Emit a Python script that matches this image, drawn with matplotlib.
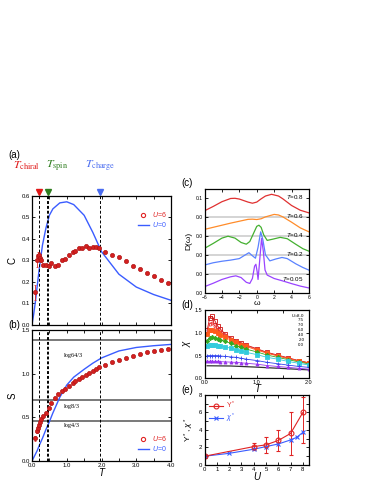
import matplotlib
matplotlib.use("Agg")
import matplotlib.pyplot as plt
from matplotlib.lines import Line2D
from matplotlib.ticker import MultipleLocator

plt.rcParams['font.family'] = ['Liberation Sans', 'DejaVu Sans']
plt.rcParams['mathtext.fontset'] = 'custom'
plt.rcParams['mathtext.rm'] = 'Liberation Sans'
plt.rcParams['mathtext.it'] = 'Liberation Sans:italic'
plt.rcParams['xtick.direction'] = 'in'
plt.rcParams['ytick.direction'] = 'in'
plt.rcParams['axes.linewidth'] = 0.9

# ---------------- data ----------------
# (a)/(b): U=0 exact curves
T_free = [0, 0.05, 0.1, 0.15, 0.2, 0.3, 0.4, 0.5, 0.6, 0.8, 1.0, 1.2, 1.5, 1.75, 2.0, 2.5, 3.0, 3.5, 4.0]
C_free = [0, 0.05, 0.11, 0.18, 0.25, 0.37, 0.45, 0.51, 0.54, 0.568, 0.573, 0.56, 0.51, 0.43, 0.34, 0.235, 0.175, 0.14, 0.113]
S_free = [0, 0.04, 0.08, 0.12, 0.17, 0.26, 0.36, 0.45, 0.55, 0.73, 0.87, 0.96, 1.05, 1.12, 1.18, 1.26, 1.30, 1.32, 1.335]

# (a)/(b): U=6 data points
T_u6 = [0.1, 0.15, 0.18, 0.2, 0.23, 0.27, 0.33, 0.4, 0.48, 0.56, 0.65, 0.75, 0.85, 0.95, 1.05,
        1.17, 1.24, 1.35, 1.43, 1.54, 1.65, 1.75, 1.84, 1.93, 2.1, 2.3, 2.5, 2.7, 2.9, 3.1, 3.3,
        3.5, 3.7, 3.9]
C_u6 = [0.15, 0.30, 0.32, 0.325, 0.31, 0.30, 0.28, 0.278, 0.273, 0.285, 0.275, 0.278, 0.302,
        0.308, 0.325, 0.34, 0.343, 0.355, 0.358, 0.365, 0.355, 0.36, 0.36, 0.358, 0.338, 0.325,
        0.313, 0.298, 0.275, 0.26, 0.24, 0.226, 0.21, 0.195]
C_u6_err = [0.035, 0.03, 0.02, 0.012, 0.01, 0.008] + [0.0] * 28
S_u6 = [0.26, 0.34, 0.38, 0.41, 0.45, 0.48, 0.52, 0.555, 0.61, 0.665, 0.72, 0.765, 0.8, 0.83,
        0.86, 0.895, 0.915, 0.94, 0.96, 0.985, 1.01, 1.035, 1.055, 1.075, 1.1, 1.13, 1.16,
        1.185, 1.205, 1.23, 1.245, 1.256, 1.268, 1.284]
S_u6_err = [0.03, 0.025, 0.02, 0.015, 0.01] + [0.0] * 29

T_chiral, T_spin, T_charge = 0.19, 0.45, 1.95
S_levels = [1.386, 0.693, 0.462]
S_level_labels = ["log64/3", "log8/3", "log4/3"]

# (c): spectral functions
w_08 = [-6, -5, -4, -3, -2.5, -2, -1, -0.5, 0, 0.5, 1, 1.7, 2.5, 3, 4, 5, 6]
D_08 = [0.032, 0.055, 0.08, 0.097, 0.098, 0.094, 0.078, 0.072, 0.078, 0.095, 0.11, 0.119, 0.11,
        0.095, 0.06, 0.035, 0.021]
w_06 = [-6, -5, -4, -3, -2, -1, -0.5, 0, 0.5, 1, 2, 2.5, 3, 4, 5, 6]
D_06 = [0.034, 0.045, 0.056, 0.067, 0.077, 0.087, 0.088, 0.086, 0.09, 0.1, 0.113, 0.11, 0.1,
        0.072, 0.042, 0.021]
w_04 = [-6, -5, -4, -3.3, -2.5, -1.8, -1.2, -0.8, -0.4, 0, 0.25, 0.5, 0.8, 1.2, 1.8, 2.7, 3.5,
        4.5, 5.3, 6]
D_04 = [0.034, 0.06, 0.088, 0.098, 0.088, 0.065, 0.056, 0.07, 0.11, 0.15, 0.156, 0.145, 0.105,
        0.076, 0.082, 0.092, 0.085, 0.055, 0.032, 0.019]
w_02 = [-6, -5, -4, -3, -2, -1.3, -0.9, -0.5, -0.15, 0.15, 0.45, 0.7, 1.0, 1.5, 2.2, 2.9, 3.5,
        4.5, 5.3, 6]
D_02 = [0.046, 0.058, 0.066, 0.072, 0.08, 0.1, 0.111, 0.095, 0.082, 0.14, 0.221, 0.18, 0.1,
        0.068, 0.078, 0.086, 0.08, 0.052, 0.033, 0.019]
w_005 = [-6, -5, -4, -3, -2.4, -1.8, -1.2, -0.8, -0.5, -0.25, -0.1, 0.05, 0.15, 0.3, 0.55, 0.75,
         0.95, 1.2, 2, 3, 4, 5, 6]
D_005 = [0.032, 0.05, 0.07, 0.084, 0.089, 0.08, 0.055, 0.049, 0.075, 0.14, 0.15, 0.11, 0.07,
         0.15, 0.286, 0.22, 0.12, 0.093, 0.075, 0.062, 0.048, 0.035, 0.025]
D_temps = ["0.8", "0.6", "0.4", "0.2", "0.05"]
D_offsets = [0.4, 0.3, 0.2, 0.1, 0.0]

# (d): susceptibility
T_chi = [0.05, 0.1, 0.15, 0.2, 0.25, 0.3, 0.4, 0.5, 0.6, 0.7, 0.8, 1.0, 1.2, 1.4, 1.6, 1.8, 2.0]
chi_80 = [1.05, 1.33, 1.36, 1.26, 1.15, 1.08, 0.97, 0.89, 0.83, 0.78, 0.73, 0.65, 0.57, 0.51, 0.45, 0.39, 0.34]
chi_75 = [1.0, 1.2, 1.22, 1.15, 1.08, 1.03, 0.94, 0.87, 0.81, 0.76, 0.72, 0.64, 0.56, 0.5, 0.44, 0.385, 0.335]
chi_70 = [0.98, 1.05, 1.06, 1.03, 1.0, 0.96, 0.9, 0.84, 0.79, 0.74, 0.7, 0.62, 0.55, 0.49, 0.43, 0.38, 0.33]
chi_60 = [0.82, 0.88, 0.9, 0.89, 0.87, 0.85, 0.81, 0.77, 0.72, 0.68, 0.64, 0.58, 0.51, 0.46, 0.41, 0.36, 0.315]
chi_40 = [0.72, 0.73, 0.73, 0.73, 0.72, 0.71, 0.69, 0.66, 0.63, 0.6, 0.57, 0.52, 0.46, 0.42, 0.37, 0.33, 0.29]
chi_20 = [0.5, 0.5, 0.5, 0.5, 0.5, 0.49, 0.48, 0.47, 0.46, 0.44, 0.42, 0.39, 0.35, 0.32, 0.29, 0.26, 0.24]
chi_00 = [0.37, 0.37, 0.37, 0.37, 0.37, 0.365, 0.36, 0.355, 0.35, 0.34, 0.33, 0.31, 0.28, 0.26, 0.24, 0.22, 0.2]
T_chi_line = [0.05, 0.5, 1.0, 1.5, 2.0]
chi_line = [0.275, 0.27, 0.245, 0.215, 0.185]
chi_U_labels = ["8.0", "7.5", "7.0", "6.0", "4.0", "2.0", "0.0"]

# (e): Upsilon* and chi*
U_ups = [0, 4, 5, 6, 7, 8]
ups = [1.0, 2.1, 2.3, 2.8, 3.6, 6.0]
ups_err_lo = [0.15, 0.4, 0.9, 1.15, 2.45, 3.5]
ups_err_hi = [0.15, 0.4, 0.9, 1.2, 2.4, 1.8]
U_chis = [0, 2, 4, 5, 6, 7, 7.5, 8]
chis = [1.0, 1.33, 1.8, 2.1, 2.4, 2.86, 3.16, 3.73]

RED = "#e02424"
BLUE = "#3a5cff"
TICK = 4.3

fig = plt.figure(figsize=(3.74, 4.84), dpi=100)
ax_a = fig.add_axes([0.0856, 0.3295, 0.3717, 0.2655])
ax_b = fig.add_axes([0.0856, 0.0475, 0.3717, 0.2707])
ax_c = fig.add_axes([0.5468, 0.3952, 0.2794, 0.2143])
ax_d = fig.add_axes([0.5468, 0.2184, 0.2794, 0.1411])
ax_e = fig.add_axes([0.5468, 0.0393, 0.2794, 0.1446])


def style(ax, size=TICK):
    ax.tick_params(which="both", top=True, right=True, labelsize=size, length=2.2,
                   width=0.6, pad=1.5)


def ab_legend(ax, loc, anchor):
    h = [Line2D([], [], ls="none", marker="o", mfc="none", mec=RED, ms=3, mew=0.8),
         Line2D([], [], color=BLUE, lw=1.0)]
    leg = ax.legend(h, ["$U$=6", "$U$=0"], loc=loc, bbox_to_anchor=anchor, frameon=False,
                    fontsize=5, handlelength=1.6, handletextpad=0.5, labelspacing=0.1,
                    borderaxespad=0)
    leg.get_texts()[0].set_color(RED)
    leg.get_texts()[1].set_color(BLUE)


# ---- (a) ----
ax = ax_a
ax.plot(T_free, C_free, color=BLUE, lw=1.0)
ax.errorbar(T_u6, C_u6, yerr=C_u6_err, ls="none", marker="o", ms=3, mfc="#d42020",
            mec="#b01515", mew=0.5, ecolor=RED, elinewidth=0.6, capsize=1)
for t in [T_chiral, T_spin - 0.02, T_spin + 0.02, T_charge]:
    ax.axvline(t, color="k", ls=(0, (3, 2)), lw=0.7)
ax.set_xlim(0, 4)
ax.set_ylim(0, 0.6)
ax.xaxis.set_major_locator(MultipleLocator(0.5))
ax.set_xticklabels([])
ax.set_yticks([0, 0.1, 0.2, 0.3, 0.4, 0.5, 0.6])
ax.set_yticklabels(["0.0", "0.1", "0.2", "0.3", "0.4", "0.5", "0.6"])
style(ax)
ax.set_ylabel("C", fontsize=7, labelpad=3)
for t, col, lab, dx in [(T_chiral, "#e01818", r"$T_{\rm chiral}$", -0.36),
                        (T_spin, "#2e7d1e", r"$T_{\rm spin}$", 0.26),
                        (T_charge, "#4a6cf0", r"$T_{\rm charge}$", 0.02)]:
    ax.plot([t], [0.618], marker="v", color=col, ms=4.5, clip_on=False)
    ax.text(t + dx, 0.74, lab, color=col, fontsize=8.5, ha="center", va="center",
            math_fontfamily="stix", clip_on=False)
ab_legend(ax, "upper right", (0.99, 0.91))
fig.text(0.022, 0.68, "(a)", fontsize=7, va="center")

# ---- (b) ----
ax = ax_b
for lvl in S_levels:
    ax.axhline(lvl, color="#555555", lw=1.1)
for x, y, lab in zip([1.18, 1.14, 1.14], [1.207, 0.624, 0.406], S_level_labels):
    ax.text(x, y, lab, fontsize=4.5, family="Liberation Serif", ha="center", va="center")
ax.plot(T_free, S_free, color=BLUE, lw=1.0)
ax.errorbar(T_u6, S_u6, yerr=S_u6_err, ls="none", marker="o", ms=3, mfc="#d42020",
            mec="#b01515", mew=0.5, ecolor=RED, elinewidth=0.6, capsize=1)
for t in [T_chiral, T_spin - 0.02, T_spin + 0.02, T_charge]:
    ax.axvline(t, color="k", ls=(0, (3, 2)), lw=0.7)
ax.set_xlim(0, 4)
ax.set_ylim(0, 1.5)
ax.set_xticks([0, 0.5, 1, 1.5, 2, 2.5, 3, 3.5, 4])
ax.set_xticklabels(["0.0", "", "1.0", "", "2.0", "", "3.0", "", "4.0"])
ax.set_yticks([0, 0.5, 1.0, 1.5])
ax.set_yticklabels(["0.0", "0.5", "1.0", "1.5"])
style(ax)
ax.set_ylabel("S", fontsize=7, labelpad=3)
ax.set_xlabel("T", fontsize=7, style="italic", labelpad=0)
ab_legend(ax, "lower right", (0.99, 0.04))
fig.text(0.022, 0.328, "(b)", fontsize=7, va="center")

# ---- (c) ----
ax = ax_c
c_colors = ["#e03030", "#ff8c2a", "#44b030", "#5a82ff", "#9a44ff"]
c_w = [w_08, w_06, w_04, w_02, w_005]
c_D = [D_08, D_06, D_04, D_02, D_005]
for off in D_offsets[:-1]:
    ax.axhline(off, color="#d4d4d4", lw=1.4, zorder=0)
for w, D, off, col, tt in zip(c_w, c_D, D_offsets, c_colors, D_temps):
    ax.plot(w, [d + off for d in D], color=col, lw=0.9)
    ty = off + 0.105 if tt != "0.05" else off + 0.075
    ax.text(5.4, ty, "$T$=" + tt, fontsize=4.5, ha="right", va="center")
ax.set_xlim(-6, 6)
ax.set_ylim(0, 0.547)
ax.set_xticks([-6, -4, -2, 0, 2, 4, 6])
ax.set_yticks([0, 0.1, 0.2, 0.3, 0.4, 0.5])
ax.set_yticklabels(["0.0", "0.0", "0.0", "0.0", "0.0", "0.1"])
style(ax, 3.6)
ax.set_ylabel("D(ω)", fontsize=6, labelpad=2)
ax.set_xlabel("ω", fontsize=6, labelpad=0)
fig.text(0.485, 0.622, "(c)", fontsize=7, va="center")

# ---- (d) ----
ax = ax_d
d_series = [chi_80, chi_75, chi_70, chi_60, chi_40, chi_20, chi_00]
d_colors = ["#cc1010", "#ee3a3a", "#ff5a1a", "#33aa22", "#33ccdd", "#3344ee", "#9933ee"]
d_markers = ["s", "o", "s", "D", "s", "+", "^"]
d_fill = ["none", "none", None, None, None, None, None]
ax.plot(T_chi_line, chi_line, color="#333333", lw=0.9)
for ys, col, mk, fc in zip(d_series, d_colors, d_markers, d_fill):
    ax.plot(T_chi, ys, color=col, lw=0.6, marker=mk, ms=2.2, mew=0.6,
            mfc=col if fc is None else fc, mec=col)
for i, lab in enumerate(chi_U_labels):
    txt = "$U$=" + lab if i == 0 else lab
    ax.text(0.955, 0.925 - i * 0.073, txt, transform=ax.transAxes, fontsize=3.2,
            ha="right", va="center")
ax.set_xlim(0, 2)
ax.set_ylim(0, 1.5)
ax.set_xticks([0, 0.5, 1.0, 1.5, 2.0])
ax.set_xticklabels(["0.0", "", "1.0", "", "2.0"])
ax.set_yticks([0, 0.5, 1.0, 1.5])
ax.set_yticklabels(["0.0", "0.5", "1.0", "1.5"])
style(ax, 4.0)
ax.set_ylabel("χ", fontsize=7, style="italic", labelpad=2)
ax.set_xlabel("T", fontsize=7, style="italic", labelpad=-1)
fig.text(0.485, 0.37, "(d)", fontsize=7, va="center")

# ---- (e) ----
ax = ax_e
ax.errorbar(U_ups, ups, yerr=[ups_err_lo, ups_err_hi], color=RED, lw=0.8, marker="o", ms=3.5,
            mfc="none", mec=RED, mew=0.8, ecolor=RED, elinewidth=0.7, capsize=1.2)
ax.plot(U_chis, chis, color=BLUE, lw=0.8, marker="x", ms=3, mew=0.8)
ax.set_xlim(0, 8.5)
ax.set_ylim(0, 8)
ax.set_xticks(range(0, 9))
ax.set_yticks([0, 2, 4, 6, 8])
ax.yaxis.set_minor_locator(MultipleLocator(1))
style(ax, 4.3)
ax.set_ylabel(r"$\Upsilon^*$, $\chi^*$", fontsize=6, labelpad=2)
ax.set_xlabel("U", fontsize=7, style="italic", labelpad=0)
h_e = [Line2D([], [], color=RED, lw=0.8, marker="o", ms=3.5, mfc="none", mew=0.8),
       Line2D([], [], color=BLUE, lw=0.8, marker="x", ms=3, mew=0.8)]
leg = ax.legend(h_e, [r"$\Upsilon^*$", r"$\chi^*$"], loc="upper left", frameon=False,
                fontsize=5, handlelength=2.0, handletextpad=0.4, labelspacing=0.1,
                borderaxespad=0.3)
leg.get_texts()[0].set_color(RED)
leg.get_texts()[1].set_color(BLUE)
fig.text(0.485, 0.195, "(e)", fontsize=7, va="center")

fig.savefig("out.png", dpi=100)
